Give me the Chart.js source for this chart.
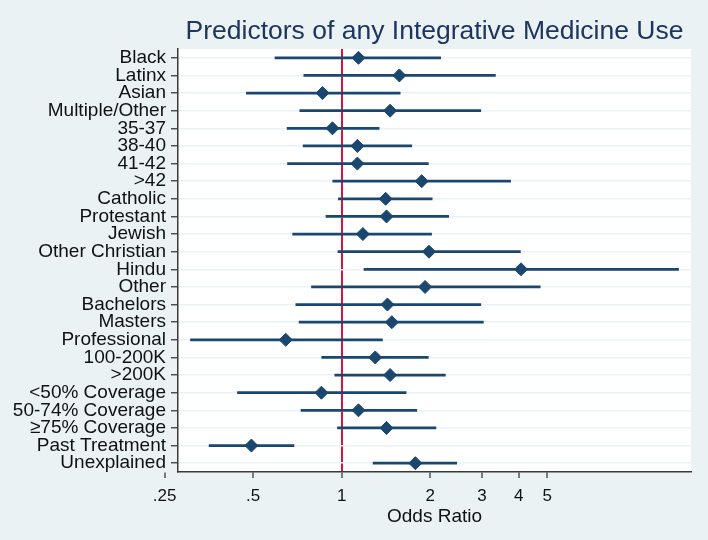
<!DOCTYPE html>
<html>
<head>
    <title>Predictors of any Integrative Medicine Use</title>
    <script src="https://cdn.jsdelivr.net/npm/chart.js"></script>
    <style>
        html, body { margin: 0; padding: 0; background: #eaf2f3; }
        #wrap { width: 708px; height: 540px; }
    </style>
</head>
<body>
    <div id="wrap"><canvas id="orChart"></canvas></div>
<script>
// predictors, top to bottom
let predictors = ['Black', 'Latinx', 'Asian', 'Multiple/Other', '35-37', '38-40', '41-42', '>42',
    'Catholic', 'Protestant', 'Jewish', 'Other Christian', 'Hindu', 'Other', 'Bachelors', 'Masters',
    'Professional', '100-200K', '>200K', '<50% Coverage', '50-74% Coverage', '\u226575% Coverage',
    'Past Treatment', 'Unexplained'];

// odds ratios
let oddsRatio = [1.14, 1.57, 0.86, 1.46, 0.93, 1.13, 1.13, 1.87,
    1.41, 1.42, 1.18, 1.98, 4.07, 1.92, 1.43, 1.48,
    0.645, 1.30, 1.46, 0.853, 1.14, 1.42,
    0.493, 1.78];

// 95% confidence limits
let ciLow = [0.593, 0.743, 0.474, 0.72, 0.652, 0.739, 0.654, 0.932,
    0.974, 0.884, 0.681, 0.971, 1.19, 0.789, 0.698, 0.716,
    0.306, 0.855, 0.947, 0.442, 0.727, 0.967,
    0.354, 1.278];
let ciHigh = [2.17, 3.33, 1.58, 2.97, 1.34, 1.73, 1.97, 3.75,
    2.03, 2.31, 2.02, 4.05, 13.97, 4.73, 2.97, 3.03,
    1.375, 1.97, 2.25, 1.655, 1.80, 2.09,
    0.688, 2.46];

// x axis tick labels
let xTicks = [0.25, 0.5, 1, 2, 3, 4, 5];

let navy = '#1a476f';
let axisGrey = '#3a3a3a';
let bluishGray = '#eaf2f3';
let fontFamily = '"Liberation Sans", Arial, sans-serif';

// backgrounds and the title centred over the plot region
let backdrop = {
    id: 'backdrop',
    beforeDraw(chart) {
        const c = chart.ctx, a = chart.chartArea;
        c.save();
        c.fillStyle = bluishGray;
        c.fillRect(0, 0, chart.width, chart.height);
        c.fillStyle = '#ffffff';
        c.fillRect(a.left, a.top, a.right - a.left, a.bottom - a.top);
        c.restore();
    },
    afterDraw(chart) {
        const c = chart.ctx, a = chart.chartArea;
        c.save();
        c.fillStyle = '#1e3560';
        c.font = '26.5px ' + fontFamily;
        c.textAlign = 'center';
        c.textBaseline = 'alphabetic';
        c.fillText('Predictors of any Integrative Medicine Use', (a.left + a.right) / 2, 39);
        c.restore();
    }
};

let ciPairs = ciLow.map((lo, i) => [lo, ciHigh[i]]);

new Chart(document.getElementById('orChart'), {
    type: 'bar',
    data: {
        labels: predictors,
        datasets: [{
            type: 'line',
            indexAxis: 'y',
            label: 'Odds ratio',
            data: oddsRatio,
            showLine: false,
            pointStyle: 'rectRot',
            pointRadius: 6.5,
            pointBackgroundColor: navy,
            pointBorderColor: navy,
            pointBorderWidth: 1
        }, {
            type: 'bar',
            indexAxis: 'y',
            label: '95% CI',
            data: ciPairs,
            backgroundColor: navy,
            borderWidth: 0,
            barThickness: 2
        }]
    },
    options: {
        indexAxis: 'y',
        responsive: true,
        maintainAspectRatio: false,
        animation: false,
        layout: { padding: { top: 49, right: 17, left: 0, bottom: 0 } },
        plugins: {
            legend: { display: false },
            tooltip: { enabled: false },
            title: { display: false }
        },
        scales: {
            x: {
                type: 'logarithmic',
                min: 0.2775,
                max: 15.4,
                afterBuildTicks: scale => { scale.ticks = xTicks.map(v => ({ value: v })); },
                afterFit: scale => { scale.height = 68; },
                ticks: {
                    autoSkip: false,
                    maxRotation: 0,
                    padding: 8,
                    color: '#111',
                    font: { family: fontFamily, size: 17 },
                    callback: v => String(v).replace(/^0\./, '.')
                },
                grid: {
                    drawOnChartArea: true,
                    color: ctx => (ctx.tick && ctx.tick.value === 1) ? '#d4163c' : 'rgba(0,0,0,0)',
                    lineWidth: 2,
                    tickColor: axisGrey,
                    tickWidth: 1.3,
                    tickLength: 6
                },
                border: { display: true, color: axisGrey, width: 1.5 },
                title: {
                    display: true,
                    text: 'Odds Ratio',
                    color: '#111',
                    font: { family: fontFamily, size: 19 },
                    padding: { top: 0, bottom: 12 }
                }
            },
            y: {
                type: 'category',
                offset: true,
                afterFit: scale => { scale.width = 178; },
                ticks: {
                    autoSkip: false,
                    padding: 5,
                    color: '#111',
                    font: { family: fontFamily, size: 19 }
                },
                grid: {
                    offset: false,
                    color: bluishGray,
                    lineWidth: 1.5,
                    tickColor: axisGrey,
                    tickWidth: 1.3,
                    tickLength: 7
                },
                border: { display: true, color: axisGrey, width: 1.5 }
            }
        }
    },
    plugins: [backdrop]
});
</script>
</body>
</html>
